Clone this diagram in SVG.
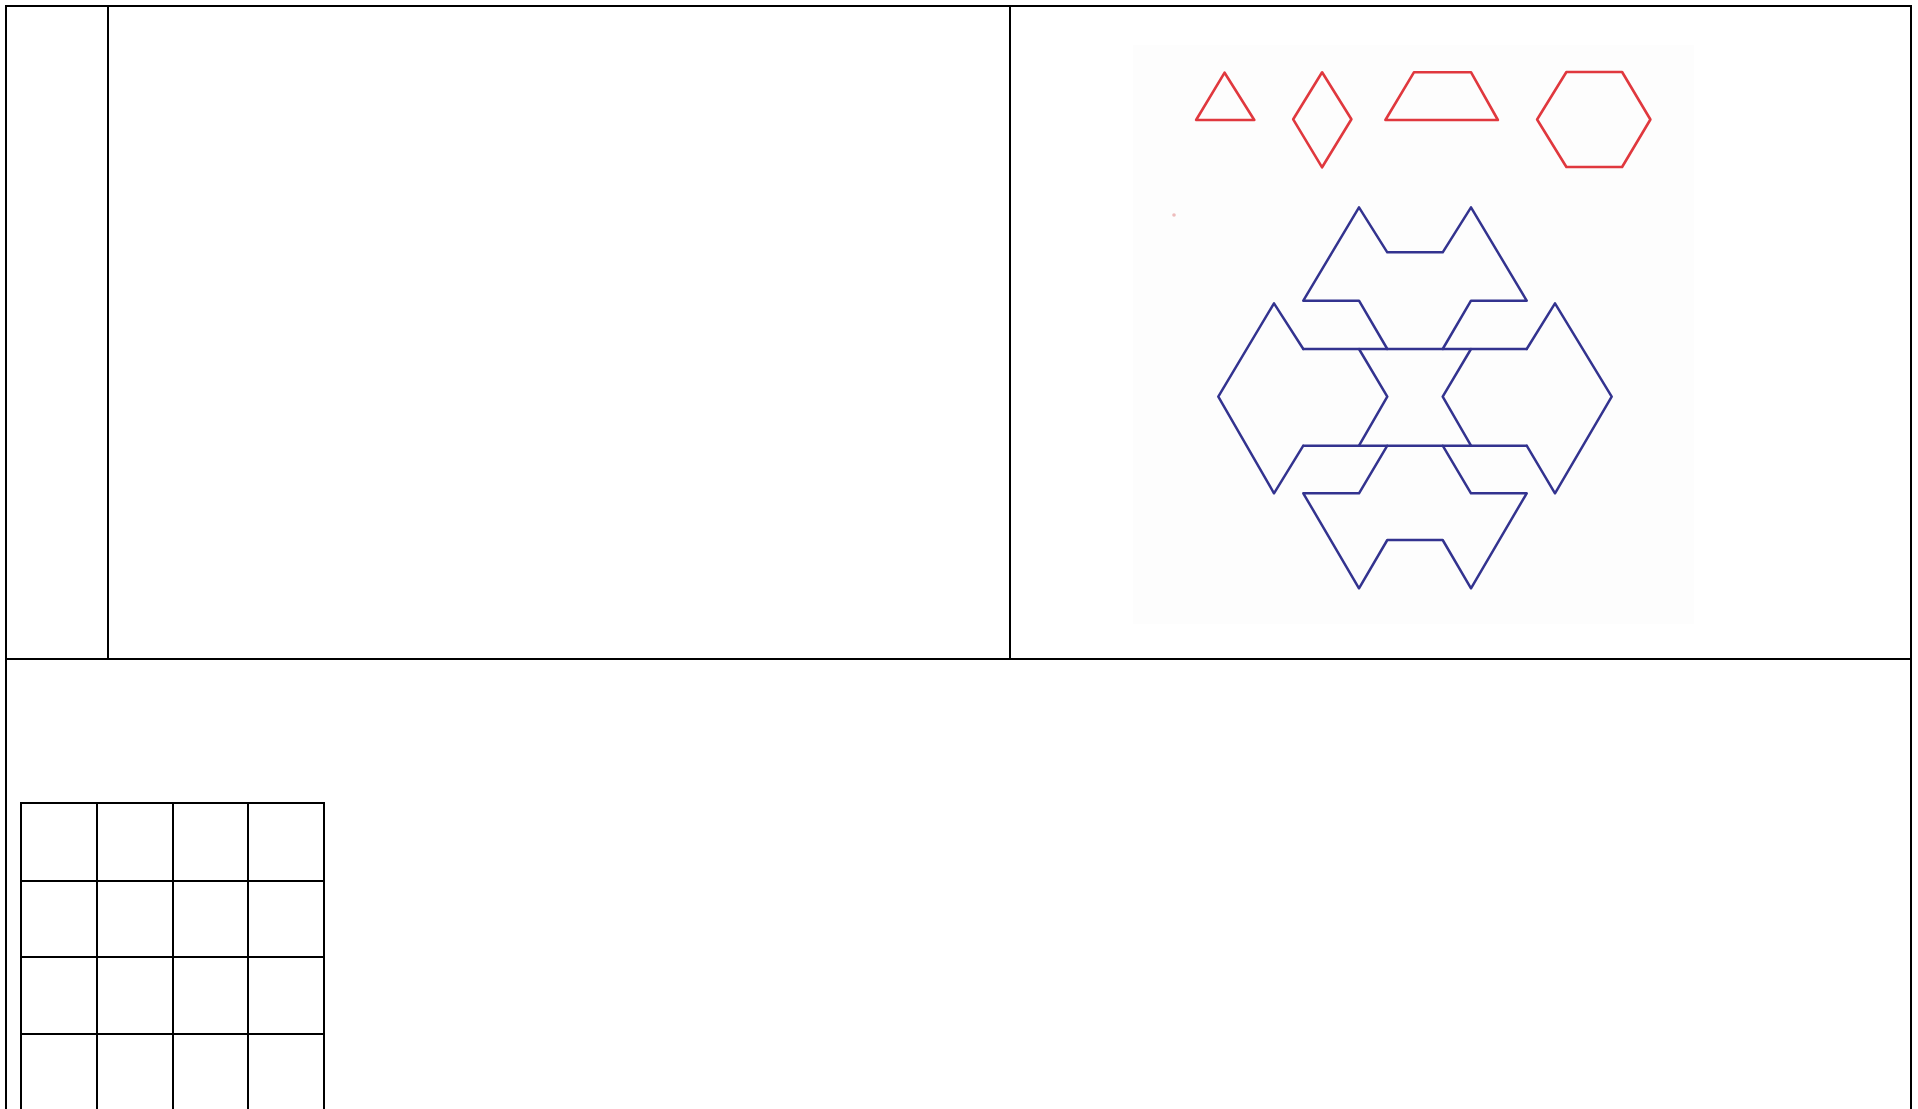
<svg xmlns="http://www.w3.org/2000/svg" width="1918" height="1109" viewBox="0 0 1918 1109">
  <style>
    .tbl { fill: none; stroke: #000; stroke-width: 2; }
    .red { fill: none; stroke: #e0383e; stroke-width: 2.6; stroke-linejoin: round; }
    .blue { fill: none; stroke: #33338f; stroke-width: 2.5; stroke-linejoin: round; stroke-linecap: round; }
  </style>
  <rect x="0" y="0" width="1918" height="1109" fill="#ffffff"/>
  <g id="table">
    <line class="tbl" x1="6" y1="6" x2="1911" y2="6"/>
    <line class="tbl" x1="6" y1="5" x2="6" y2="1109"/>
    <line class="tbl" x1="1911" y1="5" x2="1911" y2="1109"/>
    <line class="tbl" x1="6" y1="659" x2="1911" y2="659"/>
    <line class="tbl" x1="108" y1="6" x2="108" y2="659"/>
    <line class="tbl" x1="1010" y1="6" x2="1010" y2="659"/>
  </g>
  <g id="picture">
    <rect x="1133" y="45" width="561" height="579" fill="#fdfdfd"/>
    <circle cx="1174" cy="215" r="1.8" fill="#eebcbc"/>
    <g id="red-shapes">
      <polygon class="red" points="1224.6,72.7 1196.1,120 1254.3,120"/>
      <polygon class="red" points="1322.1,72.3 1293.2,119.3 1322.1,167.3 1351.4,119.3"/>
      <polygon class="red" points="1413.9,72.3 1471.1,72.3 1497.9,120 1385.4,120"/>
      <polygon class="red" points="1566.4,72 1622.1,72 1650.4,119.5 1622.1,167 1566.4,167 1537.1,119.5"/>
    </g>
    <g id="blue-figure">
      <path class="blue" d="M1303.3,300.7 L1359,207.3 L1387.3,252.3 L1442.7,252.3 L1471,207.3 L1526.7,300.7 L1471,300.7 L1442.7,349 M1387.3,349 L1359,300.7 L1303.3,300.7"/>
      <path class="blue" d="M1303.3,349 L1526.7,349"/>
      <path class="blue" d="M1303.3,349 L1274,303.3 L1218.3,396.7 L1274,493.3 L1303.3,445.7 M1359,349 L1387.3,396.7 L1359,445.7"/>
      <path class="blue" d="M1303.3,445.7 L1526.7,445.7"/>
      <path class="blue" d="M1526.7,349 L1555,303.3 L1611.7,396.7 L1555,493.3 L1526.7,445.7 M1471,349 L1442.7,396.7 L1471,445.7"/>
      <path class="blue" d="M1387.3,445.7 L1359,493.3 L1303.3,493.3 L1359,588.3 L1387.3,540 L1442.7,540 L1471,588.3 L1526.7,493.3 L1471,493.3 L1442.7,445.7"/>
    </g>
  </g>
  <g id="grid">
    <line class="tbl" x1="21" y1="803" x2="324" y2="803"/>
    <line class="tbl" x1="21" y1="881" x2="324" y2="881"/>
    <line class="tbl" x1="21" y1="957" x2="324" y2="957"/>
    <line class="tbl" x1="21" y1="1034" x2="324" y2="1034"/>
    <line class="tbl" x1="21" y1="802" x2="21" y2="1109"/>
    <line class="tbl" x1="97" y1="803" x2="97" y2="1109"/>
    <line class="tbl" x1="173" y1="803" x2="173" y2="1109"/>
    <line class="tbl" x1="248" y1="803" x2="248" y2="1109"/>
    <line class="tbl" x1="324" y1="802" x2="324" y2="1109"/>
  </g>
</svg>
